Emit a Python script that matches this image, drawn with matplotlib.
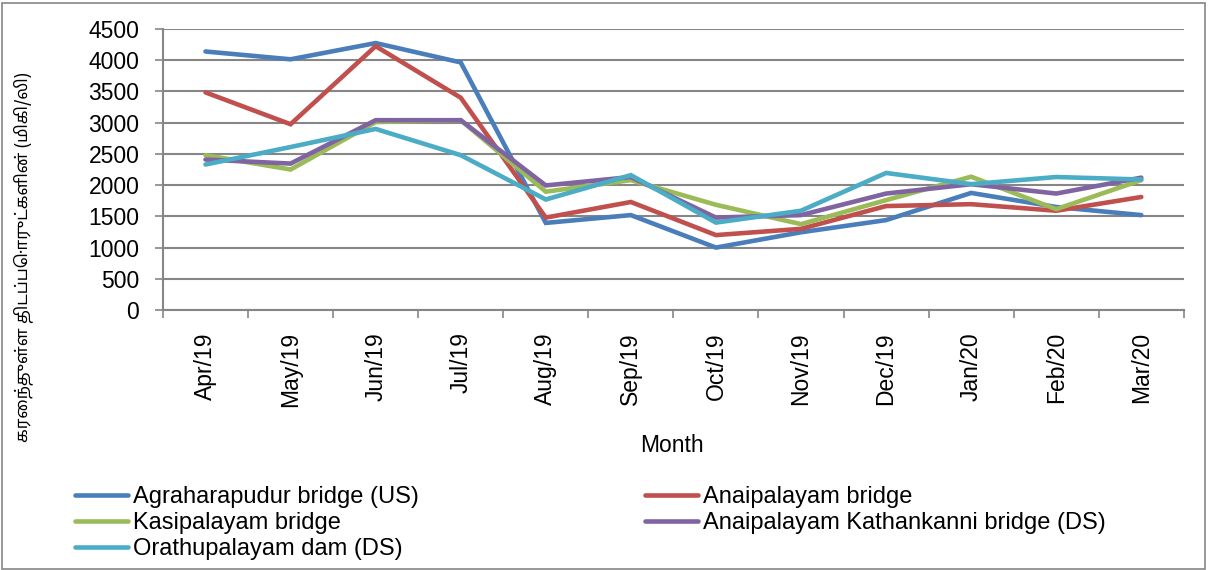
import numpy as np
import matplotlib
matplotlib.use("Agg")
import matplotlib.pyplot as plt
from matplotlib.patches import Rectangle

plt.rcParams['font.family'] = ['Liberation Sans', 'DejaVu Sans']

months = ["Apr/19", "May/19", "Jun/19", "Jul/19", "Aug/19", "Sep/19",
          "Oct/19", "Nov/19", "Dec/19", "Jan/20", "Feb/20", "Mar/20"]

agraharapudur = [4140, 4015, 4275, 3965, 1395, 1520, 1000, 1245, 1440, 1875, 1650, 1520]
anaipalayam = [3485, 2975, 4225, 3400, 1480, 1730, 1200, 1300, 1665, 1695, 1590, 1810]
kasipalayam = [2480, 2250, 3010, 3040, 1895, 2080, 1685, 1375, 1760, 2135, 1615, 2080]
kathankanni = [2410, 2345, 3040, 3040, 1995, 2130, 1480, 1520, 1865, 2015, 1865, 2120]
orathupalayam = [2330, 2610, 2900, 2480, 1770, 2160, 1400, 1590, 2195, 2015, 2130, 2090]

series = [
    ("Agraharapudur bridge (US)", agraharapudur, "#4A7EBB"),
    ("Anaipalayam bridge", anaipalayam, "#C0504D"),
    ("Kasipalayam bridge", kasipalayam, "#9BBB59"),
    ("Anaipalayam Kathankanni bridge (DS)", kathankanni, "#8064A2"),
    ("Orathupalayam dam (DS)", orathupalayam, "#4BACC6"),
]

fig = plt.figure(figsize=(12.08, 5.70), dpi=100)
ax = fig.add_axes([0.1349, 0.4561, 0.8451, 0.4930])

x = np.arange(len(months))
handles = []
for name, vals, col in series:
    h, = ax.plot(x, vals, color=col, lw=3.3, label=name, solid_capstyle='round',
                 solid_joinstyle='miter')
    handles.append(h)

ax.set_ylim(0, 4500)
ax.set_yticks(np.arange(0, 4501, 500))
ax.set_xlim(-0.5, len(months) - 0.5)
ax.set_xticks(np.arange(-0.5, len(months), 1.0))
ax.set_xticklabels([])
ax.set_xticks(x, minor=True)
ax.set_xticklabels(months, minor=True, rotation=90, fontsize=16.5)
ax.tick_params(axis='x', which='minor', length=0, pad=16)
ax.tick_params(axis='x', which='major', length=6, color='#868686', width=1.2)
ax.tick_params(axis='y', length=6, color='#868686', width=1.2, labelsize=16.5, pad=11)

ax.grid(axis='y', color='#868686', lw=1.5)
ax.set_axisbelow(True)
for s in ['top', 'right']:
    ax.spines[s].set_visible(False)
for s in ['left', 'bottom']:
    ax.spines[s].set_color('#868686')
    ax.spines[s].set_linewidth(1.5)

fig.text(0.556, 0.219, "Month", fontsize=16.5, ha='center', va='center')
fig.text(0.019, 0.549, "கரைந்துள்ள திடப்பொருட்களின் (மிகி/லி)", rotation=90,
         ha='center', va='center', fontsize=12,
         family=['Noto Sans Tamil', 'Liberation Sans', 'DejaVu Sans'])

order = [0, 2, 4, 1, 3]
fig.legend([handles[i] for i in order], [series[i][0] for i in order],
           loc='upper left', bbox_to_anchor=(0.062, 0.147), ncol=2,
           frameon=False, fontsize=17, handlelength=2.25, handletextpad=0.2,
           labelspacing=0.17, columnspacing=9.6, borderpad=0, borderaxespad=0)

fig.patches.append(Rectangle((0.0017, 0.0018), 0.996, 0.993, transform=fig.transFigure,
                             fill=False, edgecolor='#868686', lw=1.2))

fig.savefig("out.png", dpi=100)
